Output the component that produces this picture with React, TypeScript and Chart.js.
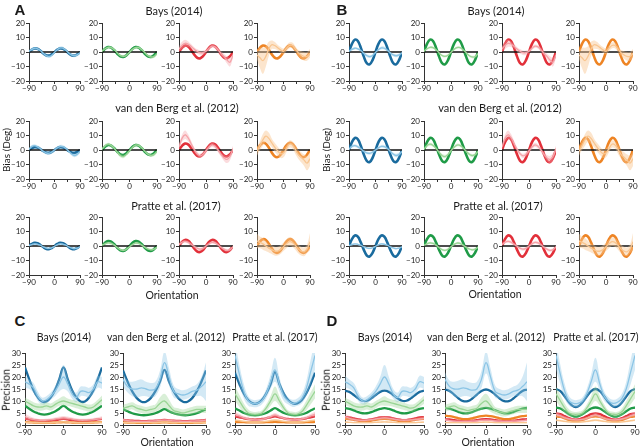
import React, { useEffect, useRef } from 'react';
import { Chart, registerables } from 'chart.js';
Chart.register(...registerables);

// ---------------- DATA ----------------
const ORI = [-90, -80, -70, -60, -50, -40, -30, -20, -10, 0, 10, 20, 30, 40, 50, 60, 70, 80, 90];
const X_TICKS = [-90, -45, 0, 45, 90];
const X_LABELED = [-90, 0, 90];
const BIAS_TICKS = [-20, -10, 0, 10, 20];
const PREC_TICKS = [0, 5, 10, 15, 20, 25, 30];
const STUDIES = ['Bays (2014)', 'van den Berg et al. (2012)', 'Pratte et al. (2017)'];
const PANEL_LETTERS = ['A', 'B', 'C', 'D'];

// Bias data (shared by A and B)
const BAYS_BLUE_D = [0.5, 1.8, 2.6, 2.2, 1.0, -0.8, -2.4, -3.2, -2.4, -0.3, 1.6, 2.8, 2.6, 1.2, -0.6, -2.0, -2.6, -2.0, -0.5];
const BAYS_BLUE_E = [0.8, 0.8, 0.8, 0.8, 0.8, 0.9, 1.0, 1.0, 0.9, 0.8, 0.8, 1.0, 1.0, 0.8, 0.8, 0.9, 1.0, 1.0, 0.8];
const BAYS_GREEN_D = [0.6, 2.2, 3.2, 3.0, 1.6, -0.6, -2.4, -3.0, -2.2, -0.2, 1.8, 3.0, 3.0, 1.6, -0.4, -2.4, -3.4, -3.2, -1.2];
const BAYS_GREEN_E = [0.8, 0.8, 0.8, 0.8, 0.8, 0.8, 0.8, 0.8, 0.8, 0.8, 0.8, 0.8, 0.8, 0.8, 0.8, 0.8, 0.9, 1.0, 1.0];
const BAYS_RED_D = [2.0, 4.5, 6.0, 5.5, 4.0, 2.0, 0.5, -0.5, -0.5, 0.5, 2.5, 4.0, 3.5, 1.5, -1.0, -3.0, -5.5, -7.0, -2.0];
const BAYS_RED_E = [2.0, 2.5, 2.5, 2.0, 1.5, 1.5, 1.5, 1.5, 1.5, 1.2, 1.2, 1.2, 1.2, 1.5, 1.5, 1.8, 2.5, 3.0, 2.0];
const BAYS_ORANGE_D = [-2, -4, -6, -3, 2, 5, 4.5, 3, 1.5, 0.5, 2.5, 4.5, 4.5, 2, -0.5, -2, -3, -3, -1];
const BAYS_ORANGE_E = [3, 7, 9, 7, 5, 3, 2.5, 2, 2, 2, 2, 2, 2, 2, 2, 2.5, 3, 3, 3];

const VDB_BLUE_D = [0.5, 2.5, 3.0, 2.2, 0.8, -0.8, -2.0, -2.3, -1.5, 0, 1.5, 2.5, 2.3, 1.0, -0.8, -2.8, -3.8, -3.0, -1.0];
const VDB_BLUE_E = [1, 1, 1, 1, 1, 1, 1, 1, 1, 1, 1, 1, 1, 1, 1, 1, 1.2, 1.2, 1];
const VDB_GREEN_D = [0.5, 3.0, 4.0, 3.2, 1.2, -1.5, -3.8, -4.5, -3.0, -0.5, 1.8, 3.4, 3.2, 1.5, -0.8, -2.8, -3.8, -3.2, -1.0];
const VDB_GREEN_E = [1, 1, 1, 1, 1, 1, 1.2, 1.2, 1, 1, 1, 1, 1, 1, 1, 1, 1, 1, 1];
const VDB_RED_D = [2, 8, 10.5, 8.5, 4.5, 0.5, -2.5, -4, -3, -0.5, 2, 3.5, 2.5, 0, -3, -5.5, -6.5, -4.5, 1];
const VDB_RED_E = [2, 2.5, 3, 2.5, 2, 1.5, 1.5, 1.5, 1.5, 1.5, 1.5, 1.5, 1.5, 1.5, 1.5, 2, 2.5, 2.5, 2];
const VDB_ORANGE_D = [-1, 3, 7, 9.5, 8, 5, 2, -0.5, -2.5, -2, 1, 4, 3.5, 0.5, -3, -5, -7, -9, -6];
const VDB_ORANGE_E = [3, 3, 4, 4, 4, 3, 3, 3, 3, 3, 2.5, 2.5, 2.5, 3, 3, 3.5, 4, 5, 5];

const PR_BLUE_D = [0.2, 1.0, 1.5, 1.2, 0.5, -0.5, -1.3, -1.7, -1.2, -0.2, 0.8, 1.4, 1.2, 0.5, -0.5, -1.3, -1.8, -1.5, -0.5];
const PR_BLUE_E = [0.6, 0.6, 0.6, 0.6, 0.6, 0.6, 0.6, 0.6, 0.6, 0.6, 0.6, 0.6, 0.6, 0.6, 0.6, 0.6, 0.6, 0.6, 0.6];
const PR_GREEN_D = [0.5, 1.5, 2.2, 1.8, 0.6, -1.0, -2.5, -3.0, -2.2, -0.5, 1.0, 2.0, 1.8, 0.6, -0.8, -2.0, -2.6, -2.2, -0.8];
const PR_GREEN_E = [0.8, 0.8, 0.8, 0.8, 0.8, 0.8, 0.8, 0.8, 0.8, 0.8, 0.8, 0.8, 0.8, 0.8, 0.8, 0.8, 0.8, 0.8, 0.8];
const PR_RED_D = [1.0, 2.5, 3.2, 2.6, 1.2, -0.2, -1.5, -2.2, -1.6, 0, 1.5, 2.5, 2.2, 0.8, -0.8, -2.2, -3.0, -2.5, -0.5];
const PR_RED_E = [1, 1, 1, 1, 1, 1, 1, 1, 1, 1, 1, 1, 1, 1, 1, 1, 1, 1, 1];
const PR_ORANGE_D = [3.5, 2.5, 1.5, 0, -1.5, -2.5, -3.5, -3.5, -2.5, -0.5, 1.5, 3, 2.5, 0.5, -2, -3.5, -4, -2, 3];
const PR_ORANGE_E = [5, 4, 4, 3.5, 3, 3, 3, 3, 3, 3, 3, 3, 3, 3, 3, 3, 3, 3, 6];

// Bias models, panel A
const A_BAYS_BLUE_M = [0, 1.6, 2.5, 2.2, 0.9, -0.9, -2.2, -2.5, -1.6, 0, 1.6, 2.5, 2.2, 0.9, -0.9, -2.2, -2.5, -1.6, 0];
const A_BAYS_GREEN_M = [0, 2.2, 3.4, 3.0, 1.2, -1.2, -3.0, -3.4, -2.2, 0, 2.2, 3.4, 3.0, 1.2, -1.2, -3.0, -3.4, -2.2, 0];
const A_BAYS_RED_M = [0, 2.9, 4.4, 3.9, 1.5, -1.5, -3.9, -4.4, -2.9, 0, 2.9, 4.4, 3.9, 1.5, -1.5, -3.9, -4.4, -2.9, 0];
const A_BAYS_ORANGE_M = [0, 2.9, 4.4, 3.9, 1.5, -1.5, -3.9, -4.4, -2.9, 0, 2.9, 4.4, 3.9, 1.5, -1.5, -3.9, -4.4, -2.9, 0];
const A_VDB_BLUE_M = [0, 1.3, 2, 1.7, 0.7, -0.7, -1.7, -2, -1.3, 0, 1.3, 2, 1.7, 0.7, -0.7, -1.7, -2, -1.3, 0];
const A_VDB_GREEN_M = [0, 2.2, 3.4, 3.0, 1.2, -1.2, -3.0, -3.4, -2.2, 0, 2.2, 3.4, 3.0, 1.2, -1.2, -3.0, -3.4, -2.2, 0];
const A_VDB_RED_M = [0, 2.9, 4.4, 3.9, 1.5, -1.5, -3.9, -4.4, -2.9, 0, 2.9, 4.4, 3.9, 1.5, -1.5, -3.9, -4.4, -2.9, 0];
const A_VDB_ORANGE_M = [0, 3.2, 4.9, 4.3, 1.7, -1.7, -4.3, -4.9, -3.2, 0, 3.2, 4.9, 4.3, 1.7, -1.7, -4.3, -4.9, -3.2, 0];
const A_PR_BLUE_M = [0, 1.4, 2.2, 1.9, 0.7, -0.7, -1.9, -2.2, -1.4, 0, 1.4, 2.2, 1.9, 0.7, -0.7, -1.9, -2.2, -1.4, 0];
const A_PR_GREEN_M = [0, 2.2, 3.4, 3.0, 1.2, -1.2, -3.0, -3.4, -2.2, 0, 2.2, 3.4, 3.0, 1.2, -1.2, -3.0, -3.4, -2.2, 0];
const A_PR_RED_M = [0, 2.8, 4.2, 3.7, 1.5, -1.5, -3.7, -4.2, -2.8, 0, 2.8, 4.2, 3.7, 1.5, -1.5, -3.7, -4.2, -2.8, 0];
const A_PR_ORANGE_M = [0, 3.1, 4.7, 4.2, 1.6, -1.6, -4.2, -4.7, -3.1, 0, 3.1, 4.7, 4.2, 1.6, -1.6, -4.2, -4.7, -3.1, 0];

// Bias models, panel B
const B_BAYS_M = [0, 5.6, 8.5, 7.6, 3.0, -3.0, -7.6, -8.5, -5.6, 0, 5.6, 8.5, 7.6, 3.0, -3.0, -7.6, -8.5, -5.6, 0];
const B_VDB_M = [0, 5.4, 8.3, 7.4, 2.9, -2.9, -7.4, -8.3, -5.4, 0, 5.4, 8.3, 7.4, 2.9, -2.9, -7.4, -8.3, -5.4, 0];
const B_PR_M = [0, 4.7, 7.2, 6.4, 2.5, -2.5, -6.4, -7.2, -4.7, 0, 4.7, 7.2, 6.4, 2.5, -2.5, -6.4, -7.2, -4.7, 0];

// Precision data (shared by C and D)
const P_BAYS_BLUE_D = [18, 17, 15.5, 12, 10, 10.5, 12, 14, 17, 20, 17, 13, 11.5, 14, 14, 13.5, 15, 18, 17.5];
const P_BAYS_BLUE_E = [2.5, 2, 2, 2, 1.5, 1.5, 1.5, 2, 3, 5, 3, 2, 2, 2, 2, 2, 2, 2.5, 2.5];
const P_BAYS_GREEN_D = [10, 9, 8, 7.5, 7.5, 8, 7.5, 8.5, 9.5, 10, 9.5, 9, 8.5, 8, 7.5, 7, 7.5, 9, 10.5];
const P_BAYS_GREEN_E = [1.5, 1.5, 1.5, 1.5, 1.5, 1.5, 1.5, 1.5, 1.5, 2, 1.5, 1.5, 1.5, 1.5, 1.5, 1.5, 1.5, 1.5, 1.8];
const P_BAYS_RED_D = [3.5, 2.8, 2.3, 2.0, 1.9, 2.0, 2.2, 2.5, 2.8, 3.0, 2.8, 2.5, 2.2, 2.0, 2.0, 2.1, 2.3, 2.5, 2.8];
const P_BAYS_RED_E = [1.2, 1, 0.7, 0.6, 0.6, 0.6, 0.6, 0.6, 0.7, 0.8, 0.7, 0.6, 0.6, 0.6, 0.6, 0.6, 0.6, 0.7, 0.8];
const P_BAYS_ORANGE_D = [1.2, 1.1, 1.0, 1.0, 1.0, 1.0, 1.0, 1.1, 1.2, 1.3, 1.2, 1.1, 1.0, 1.0, 1.0, 1.0, 1.0, 1.1, 1.2];
const P_BAYS_ORANGE_E = [0.3, 0.3, 0.3, 0.3, 0.3, 0.3, 0.3, 0.3, 0.3, 0.3, 0.3, 0.3, 0.3, 0.3, 0.3, 0.3, 0.3, 0.3, 0.3];

const P_VDB_BLUE_D = [19, 16, 15, 15, 15.5, 15, 14.5, 15, 19, 26, 20, 14, 13, 12.5, 13, 14, 14.5, 16, 18];
const P_VDB_BLUE_E = [3, 2.5, 3, 3.5, 3.5, 3, 3, 3, 3.5, 4.5, 3.5, 2.5, 2, 2, 2, 2, 2.5, 4, 8];
const P_VDB_GREEN_D = [7, 7.5, 8, 7, 6.5, 6, 6.5, 7, 9, 10, 8, 6, 5.5, 5, 5.5, 6, 6.5, 6.5, 6.5];
const P_VDB_GREEN_E = [1.5, 1.5, 1.5, 1.5, 1.5, 1.5, 1.5, 1.5, 2.5, 3, 2.5, 1.5, 1.5, 1.5, 1.5, 1.5, 1.5, 1.5, 1.5];
const P_VDB_RED_D = [2.2, 1.8, 1.6, 1.5, 1.5, 1.5, 1.6, 1.7, 1.9, 2.0, 1.9, 1.7, 1.6, 1.5, 1.5, 1.6, 1.7, 1.8, 2.0];
const P_VDB_RED_E = [0.6, 0.5, 0.5, 0.5, 0.5, 0.5, 0.5, 0.5, 0.5, 0.5, 0.5, 0.5, 0.5, 0.5, 0.5, 0.5, 0.5, 0.5, 0.6];
const P_VDB_ORANGE_D = [1, 1, 1, 1, 1, 1, 1, 1, 1.1, 1.2, 1.1, 1, 1, 1, 1, 1, 1, 1, 1];
const P_VDB_ORANGE_E = [0.3, 0.3, 0.3, 0.3, 0.3, 0.3, 0.3, 0.3, 0.3, 0.3, 0.3, 0.3, 0.3, 0.3, 0.3, 0.3, 0.3, 0.3, 0.3];

const P_PR_BLUE_D = [29, 21, 14, 10, 9, 9, 10, 13, 18, 23, 17, 12, 10, 9, 9.5, 11, 15, 22, 29];
const P_PR_BLUE_E = [6, 4, 3, 2, 1.5, 1.5, 1.5, 2, 3, 5, 3, 2, 1.5, 1.5, 1.5, 2, 3, 5, 6];
const P_PR_GREEN_D = [13, 10, 7, 5, 4.5, 4.5, 5, 7, 10, 13, 10, 7, 5, 4.5, 4.5, 5.5, 8, 11, 14];
const P_PR_GREEN_E = [3, 2.5, 2, 1.5, 1, 1, 1, 1.5, 2, 3, 2, 1.5, 1, 1, 1, 1.5, 2, 2.5, 3];
const P_PR_RED_D = [4.5, 3.8, 3, 2.5, 2.2, 2.1, 2.3, 2.8, 3.5, 4.2, 3.5, 2.8, 2.3, 2.1, 2.2, 2.5, 3, 3.8, 4.5];
const P_PR_RED_E = [1, 0.8, 0.7, 0.6, 0.6, 0.6, 0.6, 0.6, 0.7, 0.8, 0.7, 0.6, 0.6, 0.6, 0.6, 0.6, 0.7, 0.8, 1];
const P_PR_ORANGE_D = [2, 1.8, 1.5, 1.3, 1.2, 1.2, 1.3, 1.5, 1.8, 2, 1.8, 1.5, 1.3, 1.2, 1.2, 1.3, 1.5, 1.8, 2];
const P_PR_ORANGE_E = [0.4, 0.4, 0.4, 0.4, 0.4, 0.4, 0.4, 0.4, 0.4, 0.4, 0.4, 0.4, 0.4, 0.4, 0.4, 0.4, 0.4, 0.4, 0.4];

// Precision models, panel C
const C_BAYS_BLUE_M = [24, 19, 14.5, 11.5, 9.8, 9.8, 11.5, 14.5, 19, 24, 19, 14.5, 11.5, 9.8, 9.8, 11.5, 14.5, 19, 24];
const C_BAYS_GREEN_M = [8, 6.8, 5.6, 4.9, 4.4, 4.4, 4.9, 5.6, 6.8, 8, 6.8, 5.6, 4.9, 4.4, 4.4, 4.9, 5.6, 6.8, 8];
const C_BAYS_RED_M = [2.6, 2.3, 2.0, 1.8, 1.7, 1.7, 1.8, 2.0, 2.3, 2.6, 2.3, 2.0, 1.8, 1.7, 1.7, 1.8, 2.0, 2.3, 2.6];
const C_BAYS_ORANGE_M = [1.2, 1.1, 1.05, 1, 1, 1, 1, 1.05, 1.1, 1.2, 1.1, 1.05, 1, 1, 1, 1, 1.05, 1.1, 1.2];
const C_VDB_BLUE_M = [22.7, 18, 14, 11.2, 9.7, 9.7, 11.2, 14, 18, 23, 18, 14, 11.2, 9.7, 9.7, 11.2, 14, 18, 22.7];
const C_VDB_GREEN_M = [6.6, 5.7, 4.9, 4.4, 4.1, 4.1, 4.4, 4.9, 5.7, 6.6, 5.7, 4.9, 4.4, 4.1, 4.1, 4.4, 4.9, 5.7, 6.6];
const C_VDB_RED_M = [2.1, 1.9, 1.8, 1.7, 1.6, 1.6, 1.7, 1.8, 1.9, 2.1, 1.9, 1.8, 1.7, 1.6, 1.6, 1.7, 1.8, 1.9, 2.1];
const C_VDB_ORANGE_M = [1.1, 1, 1, 0.9, 0.9, 0.9, 0.9, 1, 1, 1.1, 1, 1, 0.9, 0.9, 0.9, 0.9, 1, 1, 1.1];
const C_PR_BLUE_M = [21.8, 17, 13, 10.3, 9, 9, 10.3, 13, 17, 22, 17, 13, 10.3, 9, 9, 10.3, 13, 17, 21.8];
const C_PR_GREEN_M = [7, 6, 5, 4.4, 4.1, 4.1, 4.4, 5, 6, 7, 6, 5, 4.4, 4.1, 4.1, 4.4, 5, 6, 7];
const C_PR_RED_M = [3.6, 3.2, 2.8, 2.5, 2.3, 2.3, 2.5, 2.8, 3.2, 3.6, 3.2, 2.8, 2.5, 2.3, 2.3, 2.5, 2.8, 3.2, 3.6];
const C_PR_ORANGE_M = [1.3, 1.2, 1.2, 1.1, 1.1, 1.1, 1.1, 1.2, 1.2, 1.3, 1.2, 1.2, 1.1, 1.1, 1.1, 1.1, 1.2, 1.2, 1.3];

// Precision models, panel D
const D_BAYS_BLUE_M = [14.3, 13.8, 12.5, 11.1, 10.1, 10.1, 11.1, 12.5, 13.8, 14.3, 13.8, 12.5, 11.1, 10.1, 10.1, 11.1, 12.5, 13.8, 14.3];
const D_BAYS_GREEN_M = [7, 6.7, 6.1, 5.35, 4.9, 4.9, 5.35, 6.1, 6.7, 7, 6.7, 6.1, 5.35, 4.9, 4.9, 5.35, 6.1, 6.7, 7];
const D_BAYS_RED_M = [3.3, 3.15, 2.75, 2.3, 2.05, 2.05, 2.3, 2.75, 3.15, 3.3, 3.15, 2.75, 2.3, 2.05, 2.05, 2.3, 2.75, 3.15, 3.3];
const D_BAYS_ORANGE_M = [2.6, 2.45, 2.15, 1.8, 1.55, 1.55, 1.8, 2.15, 2.45, 2.6, 2.45, 2.15, 1.8, 1.55, 1.55, 1.8, 2.15, 2.45, 2.6];
const D_VDB_BLUE_M = [14.8, 14.2, 12.7, 11.05, 9.95, 9.95, 11.05, 12.7, 14.2, 14.8, 14.2, 12.7, 11.05, 9.95, 9.95, 11.05, 12.7, 14.2, 14.8];
const D_VDB_GREEN_M = [7.1, 6.8, 6.15, 5.4, 4.9, 4.9, 5.4, 6.15, 6.8, 7.1, 6.8, 6.15, 5.4, 4.9, 4.9, 5.4, 6.15, 6.8, 7.1];
const D_VDB_RED_M = [2.4, 2.3, 2.05, 1.8, 1.65, 1.65, 1.8, 2.05, 2.3, 2.4, 2.3, 2.05, 1.8, 1.65, 1.65, 1.8, 2.05, 2.3, 2.4];
const D_VDB_ORANGE_M = [3.9, 3.7, 3.3, 2.8, 2.45, 2.45, 2.8, 3.3, 3.7, 3.9, 3.7, 3.3, 2.8, 2.45, 2.45, 2.8, 3.3, 3.7, 3.9];
const D_PR_BLUE_M = [15, 14.1, 11.9, 9.4, 7.7, 7.7, 9.4, 11.9, 14.1, 15, 14.1, 11.9, 9.4, 7.7, 7.7, 9.4, 11.9, 14.1, 15];
const D_PR_GREEN_M = [7.3, 6.85, 5.7, 4.45, 3.6, 3.6, 4.45, 5.7, 6.85, 7.3, 6.85, 5.7, 4.45, 3.6, 3.6, 4.45, 5.7, 6.85, 7.3];
const D_PR_RED_M = [4.8, 4.5, 3.7, 2.85, 2.3, 2.3, 2.85, 3.7, 4.5, 4.8, 4.5, 3.7, 2.85, 2.3, 2.3, 2.85, 3.7, 4.5, 4.8];
const D_PR_ORANGE_M = [3.6, 3.35, 2.75, 2.1, 1.65, 1.65, 2.1, 2.75, 3.35, 3.6, 3.35, 2.75, 2.1, 1.65, 1.65, 2.1, 2.75, 3.35, 3.6];

// ---------------- STYLE / LAYOUT ----------------
const FONT = 'Lato, "Open Sans", "DejaVu Sans", sans-serif';
const COLORS: Record<string, { dark: string; light: string; band: string }> = {
  blue: { dark: '#1a6b9e', light: '#8cc5e6', band: 'rgba(140,197,230,0.38)' },
  green: { dark: '#1f9b47', light: '#9ad695', band: 'rgba(154,214,149,0.38)' },
  red: { dark: '#e2303a', light: '#f5a2a9', band: 'rgba(245,162,169,0.38)' },
  orange: { dark: '#ee8424', light: '#f9c690', band: 'rgba(249,198,144,0.45)' },
};
const COLOR_ORDER = ['blue', 'green', 'red', 'orange'];

const BIAS_COLS_A = [[29, 80], [102, 157], [179, 233], [257, 310]];
const BIAS_COLS_B = [[349, 402], [424, 478], [502, 556], [579, 633]];
const BIAS_ROWS = [[23, 81], [121, 179], [217, 275]];
const PREC_COLS_C = [[25, 102], [123, 206], [235, 315]];
const PREC_COLS_D = [[345, 424], [445, 527], [556, 635]];
const PREC_ROW = [353, 425];

const BIAS_DATA = [
  [BAYS_BLUE_D, BAYS_GREEN_D, BAYS_RED_D, BAYS_ORANGE_D],
  [VDB_BLUE_D, VDB_GREEN_D, VDB_RED_D, VDB_ORANGE_D],
  [PR_BLUE_D, PR_GREEN_D, PR_RED_D, PR_ORANGE_D],
];
const BIAS_ERR = [
  [BAYS_BLUE_E, BAYS_GREEN_E, BAYS_RED_E, BAYS_ORANGE_E],
  [VDB_BLUE_E, VDB_GREEN_E, VDB_RED_E, VDB_ORANGE_E],
  [PR_BLUE_E, PR_GREEN_E, PR_RED_E, PR_ORANGE_E],
];
const BIAS_MODEL_A = [
  [A_BAYS_BLUE_M, A_BAYS_GREEN_M, A_BAYS_RED_M, A_BAYS_ORANGE_M],
  [A_VDB_BLUE_M, A_VDB_GREEN_M, A_VDB_RED_M, A_VDB_ORANGE_M],
  [A_PR_BLUE_M, A_PR_GREEN_M, A_PR_RED_M, A_PR_ORANGE_M],
];
const BIAS_MODEL_B = [
  [B_BAYS_M, B_BAYS_M, B_BAYS_M, B_BAYS_M],
  [B_VDB_M, B_VDB_M, B_VDB_M, B_VDB_M],
  [B_PR_M, B_PR_M, B_PR_M, B_PR_M],
];
const PREC_DATA = [
  [P_BAYS_BLUE_D, P_BAYS_GREEN_D, P_BAYS_RED_D, P_BAYS_ORANGE_D],
  [P_VDB_BLUE_D, P_VDB_GREEN_D, P_VDB_RED_D, P_VDB_ORANGE_D],
  [P_PR_BLUE_D, P_PR_GREEN_D, P_PR_RED_D, P_PR_ORANGE_D],
];
const PREC_ERR = [
  [P_BAYS_BLUE_E, P_BAYS_GREEN_E, P_BAYS_RED_E, P_BAYS_ORANGE_E],
  [P_VDB_BLUE_E, P_VDB_GREEN_E, P_VDB_RED_E, P_VDB_ORANGE_E],
  [P_PR_BLUE_E, P_PR_GREEN_E, P_PR_RED_E, P_PR_ORANGE_E],
];
const PREC_MODEL_C = [
  [C_BAYS_BLUE_M, C_BAYS_GREEN_M, C_BAYS_RED_M, C_BAYS_ORANGE_M],
  [C_VDB_BLUE_M, C_VDB_GREEN_M, C_VDB_RED_M, C_VDB_ORANGE_M],
  [C_PR_BLUE_M, C_PR_GREEN_M, C_PR_RED_M, C_PR_ORANGE_M],
];
const PREC_MODEL_D = [
  [D_BAYS_BLUE_M, D_BAYS_GREEN_M, D_BAYS_RED_M, D_BAYS_ORANGE_M],
  [D_VDB_BLUE_M, D_VDB_GREEN_M, D_VDB_RED_M, D_VDB_ORANGE_M],
  [D_PR_BLUE_M, D_PR_GREEN_M, D_PR_RED_M, D_PR_ORANGE_M],
];

type Series = { data: number[]; err: number[]; model: number[]; color: string };

const fmt = (v: number) => (v < 0 ? '\u2212' + Math.abs(v) : String(v));
const pts = (vals: number[]) => ORI.map((x, i) => ({ x, y: vals[i] }));

function SubPlot(props: {
  left: number; right: number; top: number; bottom: number;
  yMin: number; yMax: number; yTicks: number[]; series: Series[]; zero: boolean;
  modelWidth: number; yw: number;
}) {
  const { left, right, top, bottom, yMin, yMax, yTicks, series, zero, modelWidth, yw } = props;
  const ref = useRef<HTMLCanvasElement>(null);
  const PT = 6, PR = 6, XH = 13;
  const W = right - left, H = bottom - top;
  const cw = yw + W + PR, ch = PT + H + XH;
  useEffect(() => {
    const ds: any[] = [];
    series.forEach((s) => {
      const c = COLORS[s.color];
      ds.push({ data: pts(s.data.map((v, i) => v + s.err[i])), borderWidth: 0, pointRadius: 0, fill: '+1', backgroundColor: c.band, tension: 0.4 });
      ds.push({ data: pts(s.data.map((v, i) => v - s.err[i])), borderWidth: 0, pointRadius: 0, fill: false, tension: 0.4 });
      ds.push({ data: pts(s.data), borderColor: c.light, borderWidth: 1.3, pointRadius: 0, fill: false, tension: 0.4 });
    });
    if (zero) {
      ds.push({ data: [{ x: -90, y: 0 }, { x: 90, y: 0 }], borderColor: '#111', borderWidth: 1.3, pointRadius: 0, fill: false, tension: 0 });
    }
    series.forEach((s) => {
      ds.push({ data: pts(s.model), borderColor: COLORS[s.color].dark, borderWidth: modelWidth, pointRadius: 0, fill: false, tension: 0.4 });
    });
    const tickFont = { size: 8, family: FONT };
    const chart = new Chart(ref.current as HTMLCanvasElement, {
      type: 'line',
      data: { datasets: ds },
      options: {
        animation: false,
        responsive: false,
        maintainAspectRatio: false,
        events: [],
        layout: { padding: { left: 0, top: PT, right: PR, bottom: 0 } },
        plugins: { legend: { display: false }, tooltip: { enabled: false }, title: { display: false } },
        scales: {
          x: {
            type: 'linear', min: -90, max: 90,
            afterBuildTicks: (s: any) => { s.ticks = X_TICKS.map((v) => ({ value: v })); },
            afterFit: (s: any) => { s.height = XH; },
            ticks: {
              autoSkip: false, maxRotation: 0, padding: 0, color: '#222', font: tickFont,
              callback: (v: any) => (X_LABELED.includes(Number(v)) ? fmt(Number(v)) : ''),
            },
            grid: { display: true, drawOnChartArea: false, drawTicks: true, tickLength: 3, color: '#333', lineWidth: 1 },
            border: { display: true, color: '#333', width: 1 },
          },
          y: {
            type: 'linear', min: yMin, max: yMax,
            afterBuildTicks: (s: any) => { s.ticks = yTicks.map((v) => ({ value: v })); },
            afterFit: (s: any) => { s.width = yw; },
            ticks: { autoSkip: false, padding: 1, color: '#222', font: tickFont, callback: (v: any) => fmt(Number(v)) },
            grid: { display: true, drawOnChartArea: false, drawTicks: true, tickLength: 3, color: '#333', lineWidth: 1 },
            border: { display: true, color: '#333', width: 1 },
          },
        },
      } as any,
    });
    return () => chart.destroy();
  }, []);
  return (
    <canvas
      ref={ref}
      width={cw}
      height={ch}
      style={{ position: 'absolute', left: left - yw, top: top - PT, width: cw, height: ch }}
    />
  );
}

function Txt(props: { x: number; y: number; size: number; bold?: boolean; rotate?: boolean; family?: string; children: any }) {
  const { x, y, size, bold, rotate, family, children } = props;
  return (
    <div
      style={{
        position: 'absolute', left: x, top: y,
        transform: 'translate(-50%,-50%)' + (rotate ? ' rotate(-90deg)' : ''),
        fontSize: size, fontFamily: family || FONT, fontWeight: bold ? 700 : 400,
        whiteSpace: 'nowrap', lineHeight: 1, color: '#1a1a1a',
      }}
    >
      {children}
    </div>
  );
}

export default function App() {
  const plots: any[] = [];
  // Panels A and B (bias)
  [BIAS_COLS_A, BIAS_COLS_B].forEach((cols, p) => {
    const models = p === 0 ? BIAS_MODEL_A : BIAS_MODEL_B;
    BIAS_ROWS.forEach((row, r) => {
      cols.forEach((col, c) => {
        const series: Series[] = [{ data: BIAS_DATA[r][c], err: BIAS_ERR[r][c], model: models[r][c], color: COLOR_ORDER[c] }];
        plots.push(
          <SubPlot key={`b${p}${r}${c}`} left={col[0]} right={col[1]} top={row[0]} bottom={row[1]}
            yMin={-20} yMax={20} yTicks={BIAS_TICKS} series={series} zero={true} modelWidth={2.6} yw={22} />
        );
      });
    });
  });
  // Panels C and D (precision)
  [PREC_COLS_C, PREC_COLS_D].forEach((cols, p) => {
    const models = p === 0 ? PREC_MODEL_C : PREC_MODEL_D;
    cols.forEach((col, s) => {
      const series: Series[] = COLOR_ORDER.map((color, k) => ({
        data: PREC_DATA[s][k], err: PREC_ERR[s][k], model: models[s][k], color,
      })).reverse();
      plots.push(
        <SubPlot key={`p${p}${s}`} left={col[0]} right={col[1]} top={PREC_ROW[0]} bottom={PREC_ROW[1]}
          yMin={0} yMax={30} yTicks={PREC_TICKS} series={series} zero={false} modelWidth={2.3} yw={18} />
      );
    });
  });

  return (
    <div style={{ position: 'absolute', left: 0, top: 0, width: 640, height: 448, overflow: 'hidden', background: '#fff' }}>
      {plots}
      {/* Panel letters */}
      <Txt x={20} y={9} size={15} bold family='"Liberation Sans", Arial, sans-serif'>{PANEL_LETTERS[0]}</Txt>
      <Txt x={342} y={9} size={15} bold family='"Liberation Sans", Arial, sans-serif'>{PANEL_LETTERS[1]}</Txt>
      <Txt x={20} y={320} size={15} bold family='"Liberation Sans", Arial, sans-serif'>{PANEL_LETTERS[2]}</Txt>
      <Txt x={332} y={320} size={15} bold family='"Liberation Sans", Arial, sans-serif'>{PANEL_LETTERS[3]}</Txt>
      {/* A titles */}
      <Txt x={174} y={10} size={11}>{STUDIES[0]}</Txt>
      <Txt x={177} y={107} size={11}>{STUDIES[1]}</Txt>
      <Txt x={176} y={205} size={11}>{STUDIES[2]}</Txt>
      <Txt x={172} y={295} size={10.5}>Orientation</Txt>
      <Txt x={6} y={150} size={10} rotate>Bias (Deg)</Txt>
      {/* B titles */}
      <Txt x={496} y={10} size={11}>{STUDIES[0]}</Txt>
      <Txt x={500} y={107} size={11}>{STUDIES[1]}</Txt>
      <Txt x={498} y={205} size={11}>{STUDIES[2]}</Txt>
      <Txt x={495} y={294} size={10.5}>Orientation</Txt>
      <Txt x={326} y={150} size={10} rotate>Bias (Deg)</Txt>
      {/* C titles */}
      <Txt x={64} y={337} size={10.5}>{STUDIES[0]}</Txt>
      <Txt x={166} y={337} size={10.5}>{STUDIES[1]}</Txt>
      <Txt x={275} y={337} size={10.5}>{STUDIES[2]}</Txt>
      <Txt x={167} y={442} size={10.5}>Orientation</Txt>
      <Txt x={6} y={390} size={10.5} rotate>Precision</Txt>
      {/* D titles */}
      <Txt x={385} y={337} size={10.5}>{STUDIES[0]}</Txt>
      <Txt x={486} y={337} size={10.5}>{STUDIES[1]}</Txt>
      <Txt x={596} y={337} size={10.5}>{STUDIES[2]}</Txt>
      <Txt x={488} y={442} size={10.5}>Orientation</Txt>
      <Txt x={326} y={390} size={10.5} rotate>Precision</Txt>
    </div>
  );
}
